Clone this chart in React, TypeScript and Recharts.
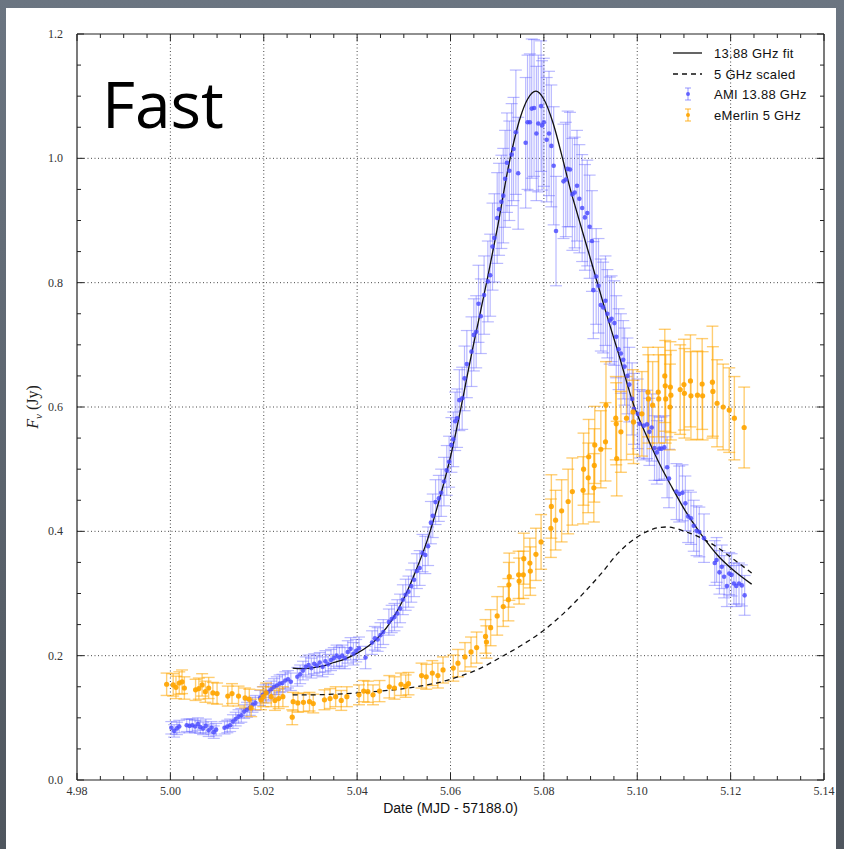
import React from 'react';
import { ComposedChart, Scatter, Line, XAxis, YAxis, ErrorBar, ReferenceLine, Legend, Label } from 'recharts';

// ---------- data ----------
const amiX = [
  5.0002, 5.0008, 5.0014, 5.0019, 5.0035, 5.0041, 5.0047, 5.0053, 5.0059, 5.0064, 5.0070, 5.0076, 5.0082, 5.0088, 5.0093, 5.0098,
  5.0116, 5.0122, 5.0128, 5.0134, 5.0140, 5.0146, 5.0152, 5.0158, 5.0164, 5.0170, 5.0176, 5.0182, 5.0192, 5.0198, 5.0204, 5.0210,
  5.0216, 5.0222, 5.0228, 5.0234, 5.0240, 5.0246, 5.0252, 5.0258, 5.0272, 5.0278, 5.0284, 5.0290, 5.0296, 5.0302, 5.0308, 5.0314,
  5.0320, 5.0326, 5.0332, 5.0338, 5.0344, 5.0350, 5.0356, 5.0362, 5.0368, 5.0374, 5.0380, 5.0386, 5.0392, 5.0398, 5.0404, 5.0418,
  5.0432, 5.0438, 5.0444, 5.0450, 5.0456, 5.0468, 5.0474, 5.0480, 5.0486, 5.0492, 5.0498, 5.0504, 5.0510, 5.0516, 5.0522, 5.0528,
  5.0534, 5.0540, 5.0546, 5.0552, 5.0558, 5.0562, 5.0568, 5.0575, 5.0580, 5.0586, 5.0592, 5.0597, 5.0602, 5.0606, 5.0610, 5.0614,
  5.0619, 5.0625, 5.0630, 5.0635, 5.0645, 5.0650, 5.0655, 5.0660, 5.0665, 5.0672, 5.0680, 5.0685, 5.0690, 5.0694, 5.0700, 5.0704,
  5.0709, 5.0713, 5.0717, 5.0721, 5.0726, 5.0731, 5.0735, 5.0740, 5.0745, 5.0761, 5.0765, 5.0770, 5.0774, 5.0779, 5.0784, 5.0788,
  5.0794, 5.0796, 5.0800, 5.0806, 5.0811, 5.0816, 5.0821, 5.0826, 5.0842, 5.0847, 5.0851, 5.0856, 5.0861, 5.0866, 5.0871, 5.0876,
  5.0882, 5.0888, 5.0893, 5.0898, 5.0903, 5.0906, 5.0912, 5.0917, 5.0922, 5.0927, 5.0932, 5.0936, 5.0941, 5.0945, 5.0951, 5.0955,
  5.0960, 5.0965, 5.0970, 5.0973, 5.0979, 5.0983, 5.0989, 5.0993, 5.1001, 5.1005, 5.1014, 5.1021, 5.1026, 5.1031, 5.1037, 5.1042,
  5.1047, 5.1052, 5.1058, 5.1064, 5.1068, 5.1084, 5.1090, 5.1097, 5.1103, 5.1109, 5.1115, 5.1121, 5.1127, 5.1133, 5.1143, 5.1166,
  5.1170, 5.1176, 5.1181, 5.1186, 5.1192, 5.1197, 5.1202, 5.1207, 5.1212, 5.1218, 5.1224, 5.1230,
];
const amiY = [
  0.084, 0.079, 0.083, 0.086, 0.088, 0.087, 0.088, 0.086, 0.090, 0.085, 0.083, 0.087, 0.080, 0.084, 0.077, 0.081,
  0.084, 0.086, 0.088, 0.094, 0.098, 0.102, 0.104, 0.110, 0.113, 0.116, 0.121, 0.124, 0.132, 0.137, 0.140, 0.142,
  0.146, 0.150, 0.152, 0.155, 0.156, 0.160, 0.162, 0.158, 0.166, 0.170, 0.176, 0.182, 0.185, 0.180, 0.187, 0.184,
  0.189, 0.182, 0.191, 0.186, 0.193, 0.196, 0.200, 0.197, 0.200, 0.196, 0.206, 0.211, 0.203, 0.208, 0.212, 0.197,
  0.221, 0.228, 0.226, 0.233, 0.238, 0.254, 0.259, 0.262, 0.268, 0.276, 0.290, 0.298, 0.303, 0.312, 0.322, 0.336,
  0.341, 0.365, 0.362, 0.376, 0.414, 0.425, 0.447, 0.453, 0.462, 0.480, 0.498, 0.512, 0.539, 0.548, 0.577, 0.582,
  0.611, 0.614, 0.646, 0.669, 0.689, 0.716, 0.721, 0.766, 0.746, 0.780, 0.802, 0.812, 0.858, 0.872, 0.904, 0.918,
  0.930, 0.940, 0.967, 0.993, 0.980, 1.006, 1.015, 1.042, 0.976, 1.025, 1.058, 1.058, 1.080, 1.081, 1.040, 1.056,
  1.084, 1.053, 1.058, 1.030, 1.040, 1.020, 0.988, 0.883, 0.963, 0.966, 0.983, 0.982, 0.942, 0.945, 0.956, 0.935,
  0.920, 0.905, 0.912, 0.890, 0.867, 0.788, 0.810, 0.795, 0.764, 0.760, 0.771, 0.750, 0.739, 0.742, 0.735, 0.713,
  0.693, 0.686, 0.676, 0.665, 0.650, 0.636, 0.613, 0.597, 0.589, 0.573, 0.570, 0.572, 0.560, 0.567, 0.534, 0.527,
  0.533, 0.533, 0.535, 0.503, 0.485, 0.464, 0.460, 0.462, 0.445, 0.424, 0.421, 0.409, 0.401, 0.399, 0.389, 0.349,
  0.354, 0.334, 0.343, 0.327, 0.312, 0.332, 0.330, 0.316, 0.312, 0.316, 0.313, 0.297,
];
const amiErr = [
  0.010, 0.010, 0.010, 0.010, 0.010, 0.011, 0.010, 0.010, 0.010, 0.010, 0.010, 0.011, 0.010, 0.010, 0.010, 0.010,
  0.010, 0.010, 0.010, 0.011, 0.011, 0.011, 0.011, 0.011, 0.012, 0.012, 0.012, 0.012, 0.012, 0.013, 0.013, 0.013,
  0.013, 0.013, 0.014, 0.014, 0.014, 0.014, 0.014, 0.014, 0.015, 0.015, 0.015, 0.016, 0.016, 0.016, 0.016, 0.016,
  0.016, 0.016, 0.017, 0.016, 0.017, 0.017, 0.017, 0.017, 0.017, 0.017, 0.018, 0.018, 0.018, 0.018, 0.018, 0.018,
  0.019, 0.019, 0.019, 0.020, 0.020, 0.021, 0.022, 0.022, 0.022, 0.023, 0.024, 0.025, 0.025, 0.026, 0.027, 0.028,
  0.028, 0.030, 0.030, 0.031, 0.034, 0.035, 0.036, 0.037, 0.038, 0.039, 0.040, 0.041, 0.044, 0.044, 0.047, 0.047,
  0.049, 0.050, 0.052, 0.054, 0.056, 0.058, 0.058, 0.062, 0.060, 0.063, 0.065, 0.066, 0.070, 0.071, 0.073, 0.074,
  0.075, 0.076, 0.078, 0.080, 0.080, 0.082, 0.083, 0.100, 0.090, 0.105, 0.108, 0.110, 0.112, 0.110, 0.108, 0.110,
  0.105, 0.104, 0.103, 0.100, 0.100, 0.098, 0.095, 0.088, 0.092, 0.092, 0.093, 0.092, 0.090, 0.089, 0.089, 0.087,
  0.086, 0.085, 0.085, 0.083, 0.081, 0.078, 0.077, 0.076, 0.074, 0.073, 0.072, 0.071, 0.070, 0.069, 0.068, 0.066,
  0.065, 0.064, 0.063, 0.062, 0.061, 0.060, 0.058, 0.057, 0.056, 0.055, 0.055, 0.055, 0.054, 0.054, 0.052, 0.051,
  0.051, 0.051, 0.051, 0.049, 0.047, 0.045, 0.045, 0.045, 0.044, 0.042, 0.042, 0.041, 0.040, 0.040, 0.039, 0.036,
  0.036, 0.035, 0.035, 0.034, 0.033, 0.034, 0.034, 0.033, 0.033, 0.033, 0.033, 0.032,
];

const emX = [
  4.9992, 5.0006, 5.0012, 5.0019, 5.0025, 5.0030, 5.0054, 5.0061, 5.0068, 5.0075, 5.0082, 5.0091, 5.0100, 5.0123, 5.0132, 5.0146,
  5.0160, 5.0169, 5.0173, 5.0194, 5.0199, 5.0205, 5.0216, 5.0224, 5.0232, 5.0241, 5.0261, 5.0263, 5.0273, 5.0285, 5.0298, 5.0306,
  5.0330, 5.0342, 5.0354, 5.0366, 5.0378, 5.0404, 5.0414, 5.0423, 5.0434, 5.0448, 5.0469, 5.0480, 5.0494, 5.0504, 5.0510, 5.0538,
  5.0548, 5.0561, 5.0573, 5.0584, 5.0606, 5.0616, 5.0631, 5.0644, 5.0656, 5.0675, 5.0677, 5.0686, 5.0700, 5.0713, 5.0724, 5.0725,
  5.0726, 5.0746, 5.0747, 5.0756, 5.0757, 5.0770, 5.0771, 5.0783, 5.0794, 5.0815, 5.0816, 5.0825, 5.0838, 5.0852, 5.0861, 5.0884,
  5.0885, 5.0895, 5.0896, 5.0907, 5.0908, 5.0909, 5.0922, 5.0932, 5.0933, 5.0954, 5.0955, 5.0956, 5.0965, 5.0977, 5.0991, 5.0992,
  5.1010, 5.1023, 5.1024, 5.1033, 5.1045, 5.1046, 5.1059, 5.1060, 5.1061, 5.1070, 5.1071, 5.1072, 5.1092, 5.1100, 5.1101, 5.1114,
  5.1115, 5.1129, 5.1139, 5.1140, 5.1161, 5.1162, 5.1171, 5.1184, 5.1197, 5.1208, 5.1229,
];
const emY = [
  0.154, 0.153, 0.149, 0.156, 0.158, 0.148, 0.145, 0.147, 0.153, 0.142, 0.148, 0.140, 0.139, 0.135, 0.139, 0.135,
  0.132, 0.130, 0.116, 0.129, 0.134, 0.140, 0.134, 0.128, 0.131, 0.134, 0.101, 0.126, 0.124, 0.125, 0.126, 0.123,
  0.129, 0.131, 0.134, 0.128, 0.134, 0.137, 0.143, 0.142, 0.137, 0.143, 0.150, 0.148, 0.154, 0.151, 0.155, 0.168,
  0.166, 0.172, 0.168, 0.177, 0.180, 0.188, 0.198, 0.206, 0.213, 0.231, 0.222, 0.245, 0.264, 0.279, 0.290, 0.314,
  0.327, 0.330, 0.320, 0.330, 0.356, 0.349, 0.336, 0.363, 0.383, 0.405, 0.440, 0.418, 0.433, 0.448, 0.464, 0.466,
  0.500, 0.486, 0.520, 0.470, 0.506, 0.539, 0.532, 0.544, 0.603, 0.582, 0.573, 0.517, 0.560, 0.582, 0.592, 0.576,
  0.589, 0.624, 0.613, 0.603, 0.624, 0.613, 0.650, 0.634, 0.613, 0.600, 0.632, 0.619, 0.628, 0.636, 0.622, 0.642,
  0.618, 0.619, 0.637, 0.618, 0.640, 0.625, 0.606, 0.600, 0.595, 0.582, 0.567,
];
const emErr = [
  0.018, 0.018, 0.018, 0.018, 0.019, 0.018, 0.017, 0.017, 0.018, 0.017, 0.017, 0.017, 0.017, 0.016, 0.016, 0.016,
  0.016, 0.016, 0.014, 0.016, 0.016, 0.016, 0.016, 0.016, 0.016, 0.016, 0.012, 0.015, 0.015, 0.015, 0.015, 0.015,
  0.016, 0.016, 0.016, 0.016, 0.016, 0.016, 0.017, 0.017, 0.016, 0.017, 0.018, 0.018, 0.018, 0.018, 0.018, 0.020,
  0.020, 0.020, 0.020, 0.021, 0.021, 0.022, 0.023, 0.024, 0.025, 0.027, 0.026, 0.029, 0.031, 0.032, 0.034, 0.036,
  0.038, 0.038, 0.037, 0.038, 0.041, 0.040, 0.039, 0.042, 0.044, 0.047, 0.051, 0.048, 0.050, 0.052, 0.054, 0.054,
  0.058, 0.056, 0.060, 0.055, 0.059, 0.062, 0.062, 0.063, 0.070, 0.067, 0.066, 0.060, 0.065, 0.067, 0.068, 0.067,
  0.068, 0.072, 0.071, 0.070, 0.072, 0.071, 0.075, 0.073, 0.071, 0.069, 0.073, 0.072, 0.072, 0.073, 0.072, 0.074,
  0.071, 0.071, 0.073, 0.071, 0.090, 0.072, 0.070, 0.069, 0.068, 0.067, 0.065,
];

const fitX = [
  5.0262, 5.0280, 5.0300, 5.0325, 5.0350, 5.0375, 5.0400, 5.0425, 5.0450, 5.0475, 5.0500, 5.0525, 5.0550, 5.0575, 5.0600,
  5.0650, 5.0680, 5.0700, 5.0725, 5.0750, 5.0765, 5.0783, 5.0800, 5.0820, 5.0840, 5.0855, 5.0870, 5.0903, 5.0931, 5.0959,
  5.0994, 5.1022, 5.1050, 5.1075, 5.1102, 5.1138, 5.1174, 5.1210, 5.1245,
];
const fitY = [
  0.180, 0.179, 0.180, 0.183, 0.189, 0.195, 0.204, 0.216, 0.233, 0.258, 0.292, 0.335, 0.385, 0.448, 0.520,
  0.703, 0.810, 0.886, 0.990, 1.067, 1.095, 1.108, 1.095, 1.056, 1.000, 0.955, 0.915, 0.830, 0.757, 0.688,
  0.600, 0.550, 0.505, 0.470, 0.434, 0.394, 0.360, 0.335, 0.315,
];
const scaledX = [
  5.0262, 5.0300, 5.0350, 5.0400, 5.0450, 5.0500, 5.0550, 5.0576, 5.0616, 5.0650, 5.0716, 5.0755, 5.0800, 5.0845, 5.0888,
  5.0925, 5.0959, 5.1000, 5.1025, 5.1045, 5.1065, 5.1081, 5.1102, 5.1138, 5.1174, 5.1210, 5.1245,
];
const scaledY = [
  0.137, 0.137, 0.138, 0.140, 0.143, 0.147, 0.153, 0.157, 0.166, 0.175, 0.201, 0.218, 0.241, 0.270, 0.303,
  0.334, 0.365, 0.391, 0.401, 0.406, 0.407, 0.405, 0.400, 0.389, 0.373, 0.353, 0.333,
];

const xMajor = [4.98, 5.0, 5.02, 5.04, 5.06, 5.08, 5.1, 5.12, 5.14];
const xTickLabels = ['4.98', '5.00', '5.02', '5.04', '5.06', '5.08', '5.10', '5.12', '5.14'];
const yMajor = [0, 0.2, 0.4, 0.6, 0.8, 1.0, 1.2];
const yTickLabels = ['0.0', '0.2', '0.4', '0.6', '0.8', '1.0', '1.2'];
const xGrid = [5.0, 5.02, 5.04, 5.06, 5.08, 5.1, 5.12];
const yGrid = [0.2, 0.4, 0.6, 0.8, 1.0];
const legendLabels = ['13.88 GHz fit', '5 GHz scaled', 'AMI 13.88 GHz', 'eMerlin 5 GHz'];
const titleText = 'Fast';
const xAxisTitle = 'Date (MJD - 57188.0)';

// ---------- derived tables ----------
const amiData = amiX.map((x, i) => ({ x, y: amiY[i], e: amiErr[i] }));
const emData = emX.map((x, i) => ({ x, y: emY[i], e: emErr[i] }));
const fitData = fitX.map((x, i) => ({ x, y: fitY[i] }));
const scaledData = scaledX.map((x, i) => ({ x, y: scaledY[i] }));

const xMinor: number[] = [];
for (let i = 0; i <= 32; i++) xMinor.push(Math.round((4.98 + i * 0.005) * 10000) / 10000);
const yMinor: number[] = [];
for (let i = 0; i <= 24; i++) yMinor.push(Math.round(i * 0.05 * 10000) / 10000);

const majorIdx = (list: number[], v: number) => list.findIndex((t) => Math.abs(t - v) < 1e-6);

// ---------- styling ----------
const TICK = '#222';
const TICK_FONT = 'Liberation Serif';
const MAJ = 7;
const MIN = 4;

const AMI_DOT = 'rgba(70,70,255,0.8)';
const AMI_BAR = 'rgba(90,90,255,0.42)';
const EM_DOT = 'rgba(255,165,0,0.92)';
const EM_BAR = 'rgba(255,165,0,0.55)';

const BottomTick = (props: any) => {
  const { x, y, payload } = props;
  const i = majorIdx(xMajor, payload.value);
  return (
    <g>
      <line x1={x} y1={y} x2={x} y2={y - (i >= 0 ? MAJ : MIN)} stroke={TICK} strokeWidth={1} />
      {i >= 0 && (
        <text x={x} y={y + 15} textAnchor="middle" fontFamily={TICK_FONT} fontSize={12} fill="#333">
          {xTickLabels[i]}
        </text>
      )}
    </g>
  );
};
const TopTick = (props: any) => {
  const { x, y, payload } = props;
  const i = majorIdx(xMajor, payload.value);
  return <line x1={x} y1={y} x2={x} y2={y + (i >= 0 ? MAJ : MIN)} stroke={TICK} strokeWidth={1} />;
};
const LeftTick = (props: any) => {
  const { x, y, payload } = props;
  const i = majorIdx(yMajor, payload.value);
  return (
    <g>
      <line x1={x} y1={y} x2={x + (i >= 0 ? MAJ : MIN)} y2={y} stroke={TICK} strokeWidth={1} />
      {i >= 0 && (
        <text x={x - 14} y={y + 4} textAnchor="end" fontFamily={TICK_FONT} fontSize={12} fill="#333">
          {yTickLabels[i]}
        </text>
      )}
    </g>
  );
};
const RightTick = (props: any) => {
  const { x, y, payload } = props;
  const i = majorIdx(yMajor, payload.value);
  return <line x1={x} y1={y} x2={x - (i >= 0 ? MAJ : MIN)} y2={y} stroke={TICK} strokeWidth={1} />;
};

const AmiDot = (p: any) => <circle cx={p.cx} cy={p.cy} r={2.3} fill={AMI_DOT} />;
const EmDot = (p: any) => <circle cx={p.cx} cy={p.cy} r={2.6} fill={EM_DOT} />;

const XTitle = (p: any) => {
  const vb = p.viewBox || { x: 77, y: 780, width: 747, height: 1 };
  return (
    <text x={vb.x + vb.width / 2} y={vb.y + 33} textAnchor="middle" fontFamily="Liberation Sans" fontSize={14} fill="#111">
      {xAxisTitle}
    </text>
  );
};
const YTitle = (p: any) => {
  const vb = p.viewBox || { x: 76, y: 34, width: 1, height: 746 };
  const cx = vb.x + vb.width - 39;
  const cy = vb.y + vb.height / 2;
  return (
    <text x={cx} y={cy} transform={`rotate(-90 ${cx} ${cy})`} textAnchor="middle" fontFamily="Liberation Serif" fontSize={16} fill="#222">
      <tspan fontStyle="italic">F</tspan>
      <tspan fontStyle="italic" fontSize={11} dy={4}>ν</tspan>
      <tspan dy={-4}>{' (Jy)'}</tspan>
    </text>
  );
};

const LegendBox = () => {
  const rowY = [13, 34, 54, 75];
  const tx = 54;
  const font = { fontFamily: 'Liberation Sans', fontSize: 13, fill: '#111', letterSpacing: 0.3 } as const;
  return (
    <svg width={180} height={90} style={{ overflow: 'visible' }}>
      <line x1={13} x2={42} y1={rowY[0]} y2={rowY[0]} stroke="#111" strokeWidth={1.3} />
      <text x={tx} y={rowY[0] + 4.5} {...font}>{legendLabels[0]}</text>
      <line x1={13} x2={42} y1={rowY[1]} y2={rowY[1]} stroke="#111" strokeWidth={1.3} strokeDasharray="5 4" />
      <text x={tx} y={rowY[1] + 4.5} {...font}>{legendLabels[1]}</text>
      <g>
        <line x1={28} x2={28} y1={rowY[2] - 6} y2={rowY[2] + 6} stroke={AMI_BAR} strokeWidth={1.5} />
        <line x1={25} x2={31} y1={rowY[2] - 6} y2={rowY[2] - 6} stroke={AMI_BAR} strokeWidth={1.5} />
        <line x1={25} x2={31} y1={rowY[2] + 6} y2={rowY[2] + 6} stroke={AMI_BAR} strokeWidth={1.5} />
        <circle cx={28} cy={rowY[2]} r={2} fill={AMI_DOT} />
      </g>
      <text x={tx} y={rowY[2] + 4.5} {...font}>{legendLabels[2]}</text>
      <g>
        <line x1={28} x2={28} y1={rowY[3] - 6} y2={rowY[3] + 6} stroke={EM_BAR} strokeWidth={1.5} />
        <line x1={25} x2={31} y1={rowY[3] - 6} y2={rowY[3] - 6} stroke={EM_BAR} strokeWidth={1.5} />
        <line x1={25} x2={31} y1={rowY[3] + 6} y2={rowY[3] + 6} stroke={EM_BAR} strokeWidth={1.5} />
        <circle cx={28} cy={rowY[3]} r={2} fill={EM_DOT} />
      </g>
      <text x={tx} y={rowY[3] + 4.5} {...font}>{legendLabels[3]}</text>
    </svg>
  );
};

export default function App() {
  return (
    <div
      style={{
        position: 'absolute',
        left: 0,
        top: 0,
        width: 844,
        height: 849,
        background: 'linear-gradient(to bottom, #6b7581, #4f565e)',
        overflow: 'hidden',
      }}
    >
      <div style={{ position: 'absolute', left: 6, top: 8, width: 830, height: 841, background: '#fff' }} />
      <div style={{ position: 'absolute', left: 0, top: 0 }}>
        <ComposedChart width={844} height={849} margin={{ top: 33, right: 19, bottom: 68, left: 76 }}>
          <XAxis
            type="number"
            dataKey="x"
            domain={[4.98, 5.14]}
            ticks={xMinor}
            interval={0}
            allowDataOverflow
            height={1}
            tickLine={false}
            tickSize={0}
            tickMargin={0}
            tick={<BottomTick />}
            axisLine={{ stroke: TICK, strokeWidth: 1.2 }}
          >
            <Label content={<XTitle />} />
          </XAxis>
          <XAxis
            xAxisId="top"
            orientation="top"
            type="number"
            dataKey="x"
            domain={[4.98, 5.14]}
            ticks={xMinor}
            interval={0}
            allowDataOverflow
            height={1}
            tickLine={false}
            tickSize={0}
            tickMargin={0}
            tick={<TopTick />}
            axisLine={{ stroke: TICK, strokeWidth: 1.2 }}
          />
          <YAxis
            type="number"
            dataKey="y"
            domain={[0, 1.2]}
            ticks={yMinor}
            interval={0}
            allowDataOverflow
            width={1}
            tickLine={false}
            tickSize={0}
            tickMargin={0}
            tick={<LeftTick />}
            axisLine={{ stroke: TICK, strokeWidth: 1.2 }}
          >
            <Label content={<YTitle />} />
          </YAxis>
          <YAxis
            yAxisId="right"
            orientation="right"
            type="number"
            dataKey="y"
            domain={[0, 1.2]}
            ticks={yMinor}
            interval={0}
            allowDataOverflow
            width={1}
            tickLine={false}
            tickSize={0}
            tickMargin={0}
            tick={<RightTick />}
            axisLine={{ stroke: TICK, strokeWidth: 1.2 }}
          />
          {xGrid.map((v) => (
            <ReferenceLine key={'gx' + v} x={v} stroke="#333" strokeWidth={0.9} strokeDasharray="1 2.5" />
          ))}
          {yGrid.map((v) => (
            <ReferenceLine key={'gy' + v} y={v} stroke="#333" strokeWidth={0.9} strokeDasharray="1 2.5" />
          ))}
          <Scatter name="AMI 13.88 GHz" data={amiData} dataKey="y" fill={AMI_DOT} shape={AmiDot} isAnimationActive={false}>
            <ErrorBar dataKey="e" direction="y" width={6} stroke={AMI_BAR} strokeWidth={1.2} />
          </Scatter>
          <Scatter name="eMerlin 5 GHz" data={emData} dataKey="y" fill={EM_DOT} shape={EmDot} isAnimationActive={false}>
            <ErrorBar dataKey="e" direction="y" width={6} stroke={EM_BAR} strokeWidth={1.4} />
          </Scatter>
          <Line
            name="13.88 GHz fit"
            data={fitData}
            dataKey="y"
            type="monotone"
            stroke="#111"
            strokeWidth={1.3}
            dot={false}
            activeDot={false}
            isAnimationActive={false}
          />
          <Line
            name="5 GHz scaled"
            data={scaledData}
            dataKey="y"
            type="monotone"
            stroke="#111"
            strokeWidth={1.3}
            strokeDasharray="5 4"
            dot={false}
            activeDot={false}
            isAnimationActive={false}
          />
          <Legend
            layout="horizontal"
            verticalAlign="middle"
            align="center"
            content={<LegendBox />}
            wrapperStyle={{ left: 660, top: 40, width: 180, height: 90 }}
          />
        </ComposedChart>
      </div>
      <svg width={844} height={849} style={{ position: 'absolute', left: 0, top: 0, pointerEvents: 'none' }}>
        <text x={102} y={128} fontFamily="Open Sans" fontSize={64} fill="#000">
          {titleText}
        </text>
      </svg>
    </div>
  );
}
